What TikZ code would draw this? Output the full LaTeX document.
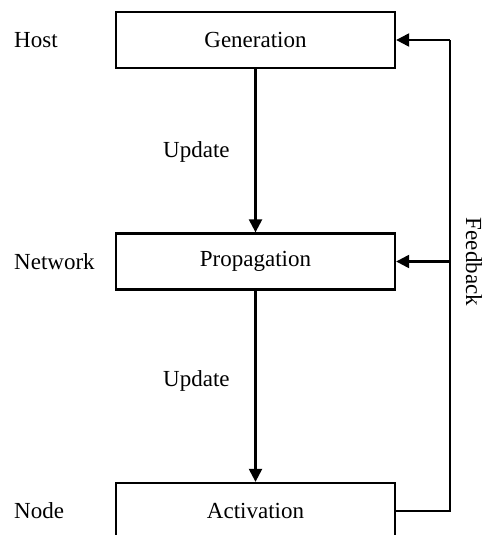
\documentclass[tikz,border=0pt]{standalone}
\usepackage{fontspec}
\setmainfont{Liberation Serif}
\usetikzlibrary{arrows.meta}
\begin{document}
\begin{tikzpicture}[x=1pt,y=-1pt,
  box/.style={draw, line width=2.3pt, minimum width=279pt, minimum height=56pt, inner sep=0pt, font=\fontsize{23}{27}\selectfont},
  lbl/.style={anchor=west, inner sep=0pt, font=\fontsize{23}{27}\selectfont},
  conn/.style={line width=2.3pt},
  arr/.style={line width=2.3pt, -{Triangle[length=13pt,width=13pt]}}]
\useasboundingbox (0,0) rectangle (486,535);
\clip (0,0) rectangle (486,535);
\node[box] (gen) at (255.5,40) {Generation};
\node[box] (prop) at (255.5,261.5) {Propagation};
\node[box] (act) at (255.5,511) {Activation};
\node[lbl] (host) at (14,40) {Host};
\node[lbl] (net) at (14,262) {Network};
\node[lbl] (nd) at (14,511) {Node};
\node[lbl] (u1) at (163,152) {Update};
\node[lbl] (u2) at (163,381) {Update};
\coordinate (fbx) at (450,0);
\draw[arr] (gen.south) -- (prop.north);
\draw[arr] (prop.south) -- (act.north);
\draw[conn] (act.east) -- (act.east -| fbx) -- (gen.east -| fbx);
\draw[arr] (gen.east -| fbx) -- (gen.east);
\draw[arr] (prop.east -| fbx) -- (prop.east);
\node[rotate=-90, inner sep=0pt, font=\fontsize{23}{27}\selectfont] (fb) at (474,262) {Feedback};
\end{tikzpicture}
\end{document}
